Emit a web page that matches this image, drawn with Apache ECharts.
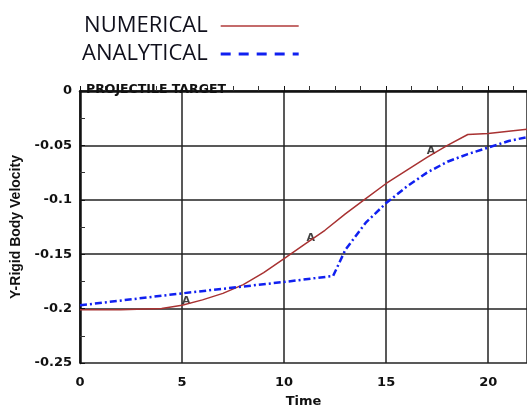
<!DOCTYPE html>
<html>
<head>
<meta charset="utf-8">
<script src="https://cdn.jsdelivr.net/npm/echarts@6/dist/echarts.min.js"></script>
<style>
  html, body { margin: 0; padding: 0; background: #fff; }
  #main { width: 527px; height: 406px; }
</style>
</head>
<body>
<div id="main"></div>
<script>
// numerical result (red solid)
var numTime = [0, 2, 4, 5, 6, 7, 8, 9, 10, 11, 12, 13, 14, 15, 16, 17, 18, 19, 20, 21, 22]
var numVel = [-0.201, -0.201, -0.2, -0.197, -0.192, -0.186, -0.178, -0.167, -0.154, -0.141, -0.128, -0.113, -0.099, -0.085, -0.073, -0.061, -0.05, -0.04, -0.039, -0.037, -0.035]

// analytical result (blue dash-dot)
var anaTime = [0, 5, 10, 12.4, 13, 14, 15, 16, 17, 18, 19, 20, 21, 22]
var anaVel = [-0.197, -0.186, -0.1755, -0.17, -0.146, -0.121, -0.103, -0.088, -0.075, -0.065, -0.058, -0.052, -0.046, -0.042]

// "A" labels on the numerical curve
var markTime = [5.2, 11.3, 17.2]
var markVel = [-0.196, -0.138, -0.058]

var yTicks = ['0', '-0.05', '-0.1', '-0.15', '-0.2', '-0.25']

function pairs(xs, ys) {
    return xs.map(function (x, i) { return [x, ys[i]] })
}

var boldFont = { fontFamily: 'DejaVu Sans', fontWeight: 'bold', fontSize: 13, color: '#111' }
var hideSymbol = { color: 'rgba(0,0,0,0)', borderWidth: 0 }

var myChart = echarts.init(document.getElementById('main'))
myChart.setOption({
    animation: false,
    backgroundColor: '#fff',
    title: {
        text: 'PROJECTILE TARGET',
        left: 81,
        top: 78,
        textStyle: { fontFamily: 'DejaVu Sans', fontWeight: 'bold', fontSize: 12.5, color: '#111' }
    },
    legend: {
        orient: 'vertical',
        left: 77,
        top: 10,
        align: 'right',
        itemWidth: 78,
        itemHeight: 14,
        itemGap: 6,
        textStyle: { fontFamily: 'Open Sans', fontSize: 22, color: '#10101c', padding: [0, 8, 0, 0] },
        data: [
            { name: 'NUMERICAL', itemStyle: hideSymbol, lineStyle: { color: '#b03a3a', width: 1.5, type: 'solid' } },
            { name: 'ANALYTICAL', itemStyle: hideSymbol, lineStyle: { color: '#1020f0', width: 3, type: [10, 8] } }
        ]
    },
    grid: { left: 80, right: 0, top: 91, bottom: 43, outerBoundsMode: 'none', containLabel: false },
    xAxis: {
        type: 'value',
        min: 0,
        max: 21.9,
        interval: 5,
        name: 'Time',
        nameLocation: 'middle',
        nameGap: 32,
        nameTextStyle: boldFont,
        axisLine: { show: true, lineStyle: { color: '#111', width: 2.5 } },
        axisTick: { show: true, inside: true, length: 5, lineStyle: { color: '#111' } },
        minorTick: { show: true, splitNumber: 4, length: 5, lineStyle: { color: '#333' } },
        axisLabel: Object.assign({ margin: 13, showMaxLabel: false }, boldFont),
        splitLine: { show: true, lineStyle: { color: '#222', width: 1.5 } }
    },
    yAxis: {
        type: 'value',
        min: -0.25,
        max: 0,
        interval: 0.05,
        name: 'Y-Rigid Body Velocity',
        nameLocation: 'middle',
        nameGap: 40,
        nameTextStyle: Object.assign({}, boldFont, { fontFamily: 'Liberation Sans', fontSize: 14 }),
        axisLine: { show: true, lineStyle: { color: '#111', width: 2.5 } },
        axisTick: { show: true, inside: true, length: 5, lineStyle: { color: '#111' } },
        minorTick: { show: true, splitNumber: 2, length: 5, lineStyle: { color: '#333' } },
        axisLabel: Object.assign({
            margin: 8,
            formatter: function (v) { return yTicks[Math.round(-v / 0.05)] }
        }, boldFont),
        splitLine: { show: true, lineStyle: { color: '#222', width: 1.5 } }
    },
    series: [
        {
            name: 'NUMERICAL',
            type: 'line',
            showSymbol: false,
            symbol: 'none',
            lineStyle: { color: '#a83232', width: 1.5 },
            itemStyle: { color: '#a83232' },
            data: pairs(numTime, numVel)
        },
        {
            name: 'ANALYTICAL',
            type: 'line',
            showSymbol: false,
            symbol: 'none',
            lineStyle: { color: '#1020f0', width: 2.5, type: [7, 3, 2, 3] },
            itemStyle: { color: '#1020f0' },
            data: pairs(anaTime, anaVel)
        },
        {
            name: 'marks',
            type: 'scatter',
            symbolSize: 0,
            silent: true,
            label: {
                show: true,
                formatter: 'A',
                position: 'inside',
                offset: [0, -3],
                fontFamily: 'DejaVu Sans',
                fontWeight: 'bold',
                fontSize: 11,
                color: '#111'
            },
            data: pairs(markTime, markVel)
        }
    ]
})
</script>
</body>
</html>
